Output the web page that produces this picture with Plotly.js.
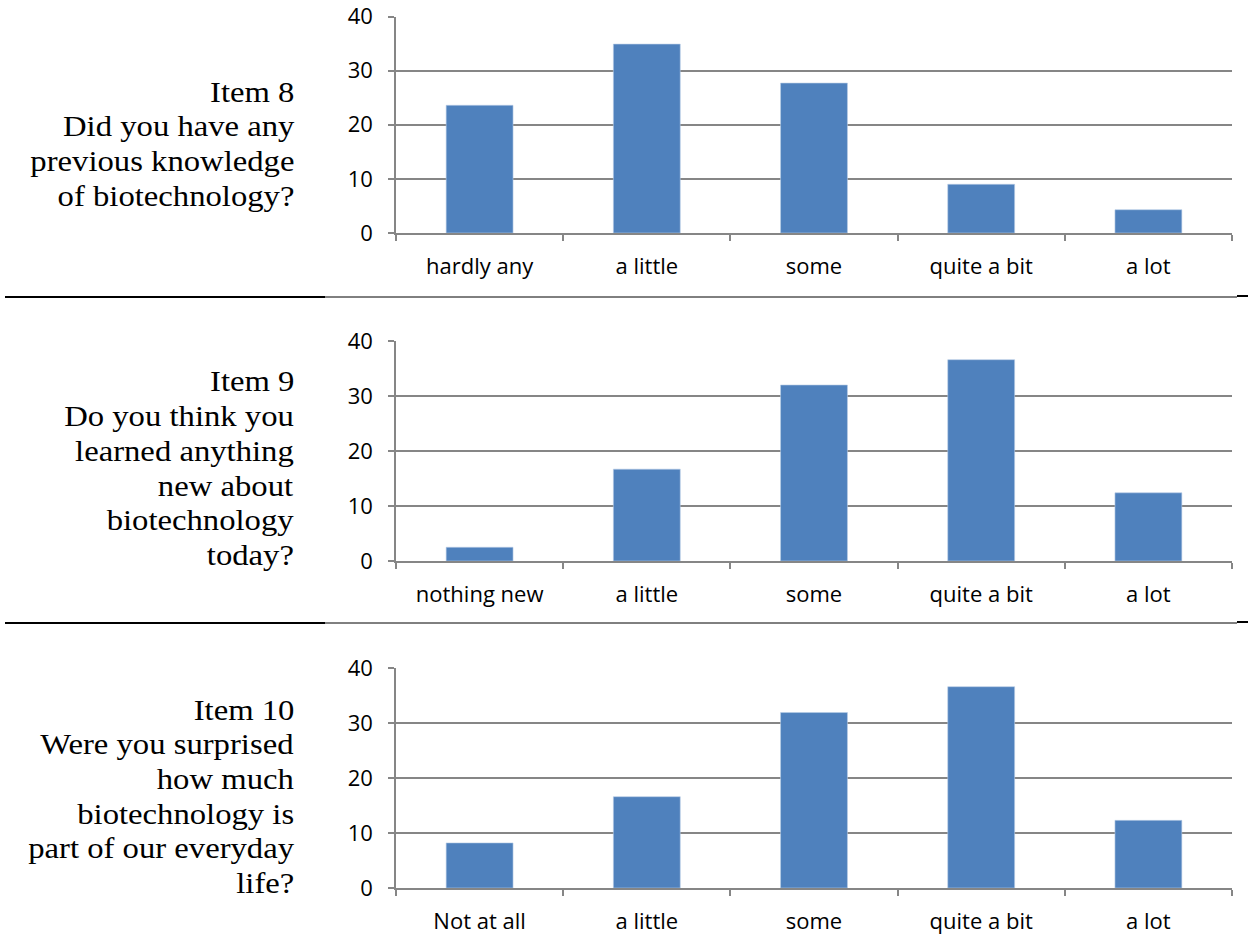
<!DOCTYPE html>
<html><head><meta charset="utf-8">
<script src="https://cdn.plot.ly/plotly-3.0.1.min.js"></script>
<style>html,body{margin:0;padding:0;background:#fff}#c{width:1248px;height:948px}</style>
</head><body><div id="c"></div>
<script>
const cats8 = ["hardly any", "a little", "some", "quite a bit", "a lot"];
const vals8 = [23.6, 34.9, 27.7, 9.0, 4.3];
const cats9 = ["nothing new", "a little", "some", "quite a bit", "a lot"];
const vals9 = [2.5, 16.7, 32.0, 36.6, 12.4];
const cats10 = ["Not at all", "a little", "some", "quite a bit", "a lot"];
const vals10 = [8.2, 16.6, 31.9, 36.6, 12.3];
const lines8 = ["Item 8", "Did you have any", "previous knowledge", "of biotechnology?"];
const lines9 = ["Item 9", "Do you think you", "learned anything", "new about", "biotechnology", "today?"];
const lines10 = ["Item 10", "Were you surprised", "how much", "biotechnology is", "part of our everyday", "life?"];

const W = 1248, H = 948;
const barColor = "#4F81BD";
const axisGray = "#868686";
function py(px){ return 1 - px / H; }

const panels = [
  {cats: cats8, vals: vals8, lines: lines8, top: 16.5, bot: 233, base: 101},
  {cats: cats9, vals: vals9, lines: lines9, top: 341, bot: 561, base: 391},
  {cats: cats10, vals: vals10, lines: lines10, top: 668, bot: 888, base: 719}
];
const lineStep = 34.7, serifSize = 30;

const data = [];
const layout = {
  width: W, height: H,
  margin: {l: 0, r: 0, t: 0, b: 0},
  paper_bgcolor: "#fff", plot_bgcolor: "#fff",
  showlegend: false,
  bargap: 0.6,
  annotations: [], shapes: []
};
const xdom = [396 / W, 1232 / W];
panels.forEach((p, i) => {
  const n = i === 0 ? "" : String(i + 1);
  data.push({type: "bar", x: p.cats, y: p.vals, xaxis: "x" + n, yaxis: "y" + n,
    marker: {color: barColor, line: {color: "#b9cde5", width: 0.6}}, hoverinfo: "x+y"});
  layout["xaxis" + n] = {
    domain: xdom, anchor: "y" + n, type: "category",
    showline: true, linecolor: axisGray, linewidth: 1.5,
    ticks: "outside", tickson: "boundaries", ticklen: 6, tickcolor: axisGray, tickwidth: 1.5,
    showgrid: false, zeroline: false,
    tickfont: {family: "Open Sans", size: 22, color: "#000"},
    ticklabelstandoff: 13, fixedrange: true
  };
  layout["yaxis" + n] = {
    domain: [py(p.bot), py(p.top)], anchor: "x" + n,
    range: [0, 40], tickvals: [0, 10, 20, 30, 40],
    showline: true, linecolor: axisGray, linewidth: 1.5,
    ticks: "outside", ticklen: 6, tickcolor: axisGray, tickwidth: 1.5,
    showgrid: true, gridcolor: axisGray, gridwidth: 1.5, zeroline: false,
    tickfont: {family: "Open Sans", size: 22, color: "#000"},
    ticklabelstandoff: 11, fixedrange: true
  };
  p.lines.forEach((t, k) => {
    layout.annotations.push({
      xref: "paper", yref: "paper", x: 296 / W, y: py(p.base + k * lineStep - 10),
      xanchor: "right", yanchor: "middle", align: "right", showarrow: false,
      text: t,
      font: {family: "Liberation Serif", size: serifSize, color: "#000"}
    });
  });
});
[297, 623].forEach(yy => {
  layout.shapes.push({type: "line", xref: "paper", yref: "paper", x0: 5 / W, x1: 325 / W, y0: py(yy), y1: py(yy), line: {color: "#000", width: 2}});
  layout.shapes.push({type: "line", xref: "paper", yref: "paper", x0: 325 / W, x1: 1237 / W, y0: py(yy), y1: py(yy), line: {color: "#000", width: 1}});
  layout.shapes.push({type: "line", xref: "paper", yref: "paper", x0: 1237 / W, x1: 1248 / W, y0: py(yy - 1), y1: py(yy - 1), line: {color: "#000", width: 2}});
});
Plotly.newPlot("c", data, layout, {displayModeBar: false}).then(gd => {
  // slight horizontal widening of the serif question text, anchored at its right edge
  gd.querySelectorAll("text.annotation-text").forEach(el => {
    const b = el.getBBox();
    const xr = b.x + b.width;
    el.setAttribute("transform", `translate(${xr},0) scale(1.09,1) translate(${-xr},0)`);
  });
});
</script></body></html>
